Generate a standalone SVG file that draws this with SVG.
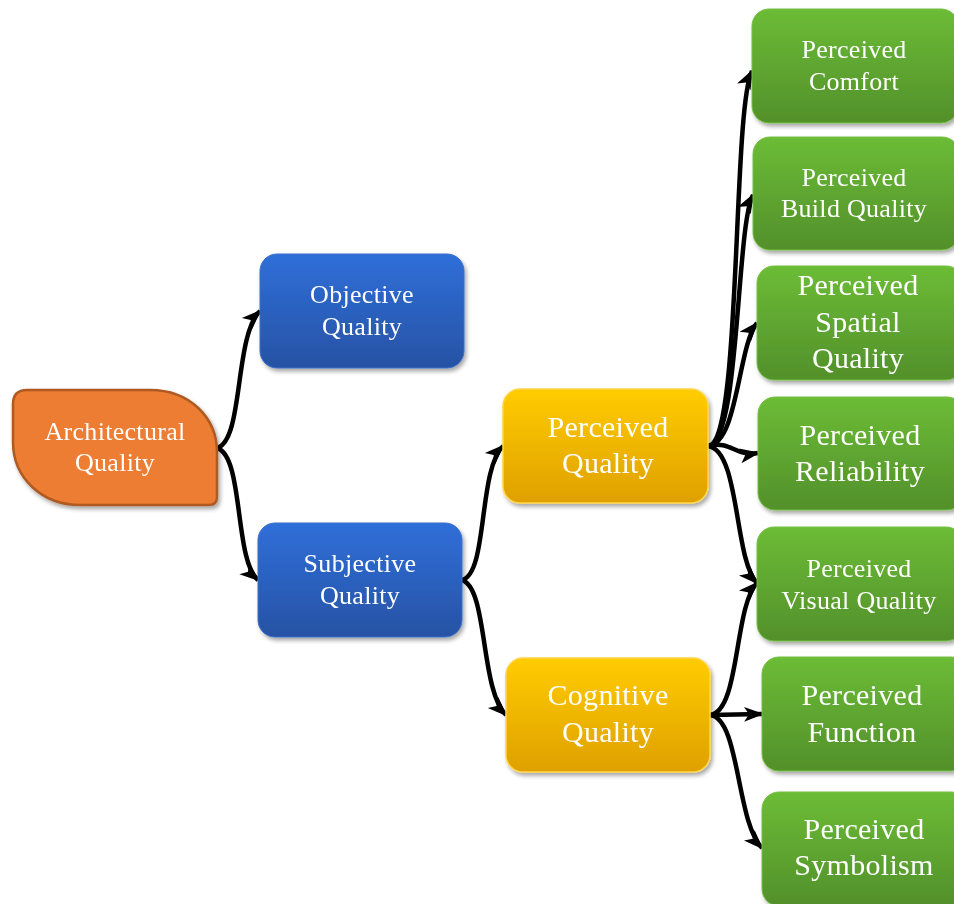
<svg xmlns="http://www.w3.org/2000/svg" width="954" height="904" viewBox="0 0 954 904">
  <defs>
    <linearGradient id="gBlue" x1="0" y1="0" x2="0" y2="1">
      <stop offset="0" stop-color="#2F6FD9"/>
      <stop offset="1" stop-color="#2752A4"/>
    </linearGradient>
    <linearGradient id="gYellow" x1="0" y1="0" x2="0" y2="1">
      <stop offset="0" stop-color="#FFCC02"/>
      <stop offset="1" stop-color="#DFA000"/>
    </linearGradient>
    <linearGradient id="gGreen" x1="0" y1="0" x2="0" y2="1">
      <stop offset="0" stop-color="#6CBC36"/>
      <stop offset="1" stop-color="#52902B"/>
    </linearGradient>
    <filter id="shadow" x="-10%" y="-10%" width="130%" height="140%">
      <feGaussianBlur in="SourceAlpha" stdDeviation="2"/>
      <feOffset dx="1.5" dy="3" result="b"/>
      <feComponentTransfer><feFuncA type="linear" slope="0.35"/></feComponentTransfer>
      <feMerge><feMergeNode/><feMergeNode in="SourceGraphic"/></feMerge>
    </filter>
    <marker id="arrow" markerUnits="userSpaceOnUse" markerWidth="22" markerHeight="18" refX="18" refY="9" orient="auto">
      <path d="M0,1.5 L20,9 L0,16.5 L5,9 Z" fill="#000"/>
    </marker>
  </defs>
  <style>
    .box { filter: url(#shadow); }
    .blue { fill: url(#gBlue); stroke: #3A70C8; stroke-width: 1; }
    .yellow { fill: url(#gYellow); stroke: #FFD54A; stroke-width: 1.5; }
    .green { fill: url(#gGreen); stroke: #74C040; stroke-width: 1; }
    .orange { fill: #ED7D31; stroke: #AE5A22; stroke-width: 2.5; }
    text { font-family: "Liberation Serif", "Times New Roman", serif; fill: #FFFFFF; text-anchor: middle; }
    .s { font-size: 26px; letter-spacing: 0.3px; }
    .l { font-size: 30px; letter-spacing: 0.3px; }
    .edge { fill: none; stroke: #000; stroke-width: 4.5; marker-end: url(#arrow); }
  </style>

  <g id="connectors">
    <path class="edge" d="M217,448 C244,440 234,336 260,311"/>
    <path class="edge" d="M217,448 C244,456 234,560 258,580"/>
    <path class="edge" d="M462,580 C488,574 478,470 503,446"/>
    <path class="edge" d="M462,580 C488,588 480,690 506,715"/>
    <path class="edge" d="M708,446 C742,444 732,110 752,71"/>
    <path class="edge" d="M708,446 C740,444 736,225 753,195"/>
    <path class="edge" d="M708,446 C738,444 738,345 757,323"/>
    <path class="edge" d="M708,446 C732,440 734,457 758,453"/>
    <path class="edge" d="M708,446 C740,450 734,560 757,583"/>
    <path class="edge" d="M710,715 C740,712 734,606 757,583"/>
    <path class="edge" d="M710,715 L762,714"/>
    <path class="edge" d="M710,715 C740,718 736,822 762,848"/>
  </g>

  <g id="architectural-quality" class="box">
    <path class="orange" d="M27,390 L150,390 C190,390 217,418 217,452 L217,497 Q217,505 209,505 L80,505 C42,505 13,478 13,442 L13,404 Q13,390 27,390 Z"/>
    <text class="s" x="115" y="440">Architectural</text>
    <text class="s" x="115" y="471">Quality</text>
  </g>

  <g id="objective-quality" class="box">
    <rect class="blue" x="260" y="254" width="204" height="114" rx="17"/>
    <text class="s" x="362" y="303">Objective</text>
    <text class="s" x="362" y="335">Quality</text>
  </g>

  <g id="subjective-quality" class="box">
    <rect class="blue" x="258" y="523" width="204" height="114" rx="17"/>
    <text class="s" x="360" y="572">Subjective</text>
    <text class="s" x="360" y="604">Quality</text>
  </g>

  <g id="perceived-quality" class="box">
    <rect class="yellow" x="503" y="389" width="205" height="114" rx="17"/>
    <text class="l" x="608" y="437">Perceived</text>
    <text class="l" x="608" y="473">Quality</text>
  </g>

  <g id="cognitive-quality" class="box">
    <rect class="yellow" x="506" y="658" width="204" height="114" rx="17"/>
    <text class="l" x="608" y="705">Cognitive</text>
    <text class="l" x="608" y="742">Quality</text>
  </g>

  <g id="perceived-comfort" class="box">
    <rect class="green" x="752" y="9" width="206" height="114" rx="17"/>
    <text class="s" x="854" y="58">Perceived</text>
    <text class="s" x="854" y="90">Comfort</text>
  </g>

  <g id="perceived-build-quality" class="box">
    <rect class="green" x="753" y="137" width="206" height="113" rx="17"/>
    <text class="s" x="854" y="186">Perceived</text>
    <text class="s" x="854" y="217">Build Quality</text>
  </g>

  <g id="perceived-spatial-quality" class="box">
    <rect class="green" x="757" y="266" width="206" height="114" rx="17"/>
    <text class="l" x="858" y="295">Perceived</text>
    <text class="l" x="858" y="332">Spatial</text>
    <text class="l" x="858" y="368">Quality</text>
  </g>

  <g id="perceived-reliability" class="box">
    <rect class="green" x="758" y="397" width="206" height="113" rx="17"/>
    <text class="l" x="860" y="445">Perceived</text>
    <text class="l" x="860" y="481">Reliability</text>
  </g>

  <g id="perceived-visual-quality" class="box">
    <rect class="green" x="757" y="527" width="206" height="114" rx="17"/>
    <text class="s" x="859" y="577">Perceived</text>
    <text class="s" x="859" y="609">Visual Quality</text>
  </g>

  <g id="perceived-function" class="box">
    <rect class="green" x="762" y="657" width="206" height="114" rx="17"/>
    <text class="l" x="862" y="705">Perceived</text>
    <text class="l" x="862" y="742">Function</text>
  </g>

  <g id="perceived-symbolism" class="box">
    <rect class="green" x="762" y="792" width="206" height="114" rx="17"/>
    <text class="l" x="864" y="839">Perceived</text>
    <text class="l" x="864" y="875">Symbolism</text>
  </g>
</svg>
